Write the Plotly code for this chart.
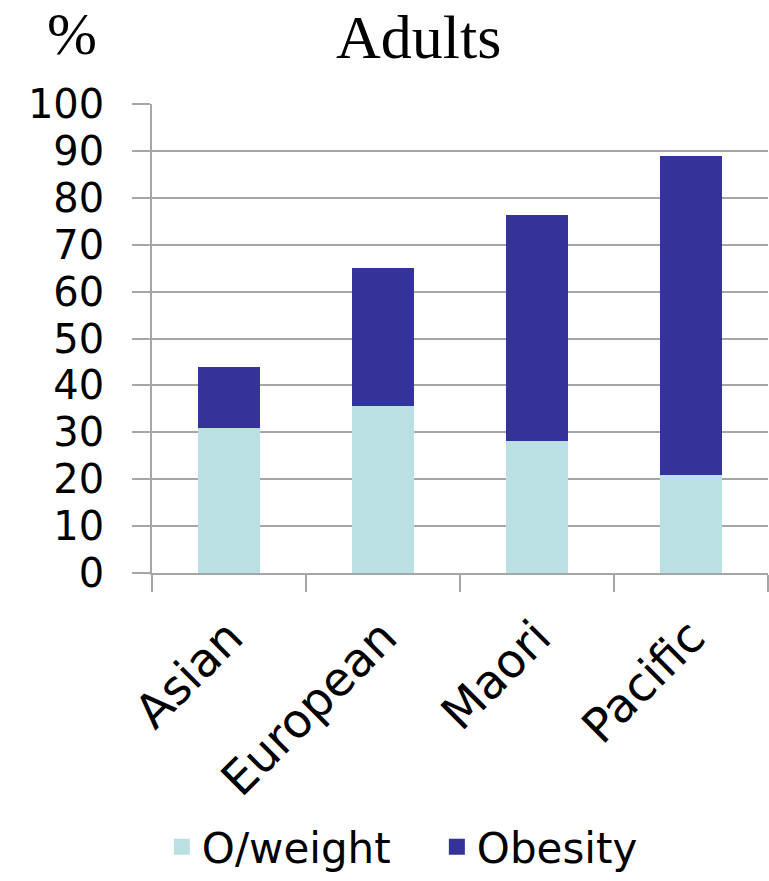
import plotly.graph_objects as go

# Adult overweight / obesity prevalence by ethnic group (%)
groups = ["Asian", "European", "Maori", "Pacific"]
overweight = [31.0, 35.7, 28.1, 21.0]
obesity = [13.0, 29.3, 48.3, 68.0]
y_ticks = [0, 10, 20, 30, 40, 50, 60, 70, 80, 90, 100]

LIGHT = "#BBE0E3"
DARK = "#333399"
GRID = "#A6A6A6"
SANS = "DejaVu Sans"
SERIF = "Liberation Serif"

W, H = 769, 881
ML, MR, MT, MB = 152, 1, 104, 308
PLOT_H = H - MT - MB

fig = go.Figure()
fig.add_trace(go.Bar(x=groups, y=overweight, name="O/weight",
                     marker=dict(color=LIGHT, line=dict(width=0)),
                     width=0.4, showlegend=False))
fig.add_trace(go.Bar(x=groups, y=obesity, name="Obesity",
                     marker=dict(color=DARK, line=dict(width=0)),
                     width=0.4, showlegend=False))

# legend entries with larger square swatches
for name, col in [("O/weight", LIGHT), ("Obesity", DARK)]:
    fig.add_trace(go.Scatter(x=[None], y=[None], mode="markers", name=name,
                             marker=dict(symbol="square", size=16, color=col),
                             showlegend=True))

fig.update_layout(
    width=W, height=H,
    margin=dict(l=ML, r=MR, t=MT, b=MB, pad=0, autoexpand=False),
    barmode="stack",
    bargap=0.6,
    plot_bgcolor="white", paper_bgcolor="white",
    font=dict(family=SANS, color="black"),
    legend=dict(orientation="h", xanchor="left", x=0.016,
                yanchor="bottom", y=-MB / PLOT_H, traceorder="normal",
                entrywidth=230, entrywidthmode="pixels",
                font=dict(family=SANS, size=42, color="black"),
                itemsizing="trace", tracegroupgap=0),
    annotations=[
        dict(text="Adults", xref="paper", yref="paper", x=0.432, y=1.142,
             xanchor="center", yanchor="middle", showarrow=False,
             font=dict(family=SERIF, size=62, color="black")),
        dict(text="%", xref="paper", yref="paper", x=-0.13, y=1.15,
             xanchor="center", yanchor="middle", showarrow=False,
             font=dict(family=SERIF, size=60, color="black")),
    ],
)

fig.update_xaxes(
    type="category", range=[-0.5, 3.5], automargin=False,
    showgrid=False, showline=True, linecolor=GRID, linewidth=1.5,
    ticks="outside", tickson="boundaries", ticklen=17,
    tickcolor=GRID, tickwidth=1.5, ticklabelstandoff=16,
    tickangle=-45, tickfont=dict(family=SANS, size=47, color="black"),
)
fig.update_yaxes(
    range=[0, 100], tickvals=y_ticks, automargin=False,
    showgrid=True, gridcolor=GRID, gridwidth=1.5,
    showline=True, linecolor=GRID, linewidth=1.5,
    ticks="outside", ticklen=18, tickcolor=GRID, tickwidth=1.5,
    ticklabelstandoff=20,
    tickfont=dict(family=SANS, size=40, color="black"),
    zeroline=False,
)

fig.write_html("out.html")
